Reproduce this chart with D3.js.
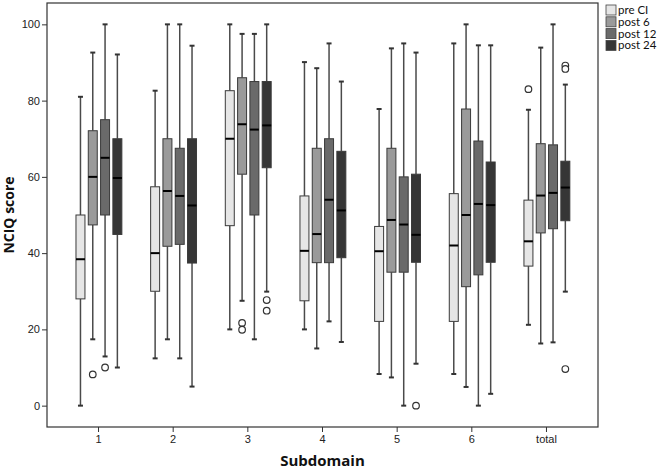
<!DOCTYPE html>
<html>
<head>
<meta charset="utf-8">
<script src="https://cdn.jsdelivr.net/npm/d3@7"></script>
<style>
  html, body { margin: 0; padding: 0; background: #fff; }
  svg { display: block; font-family: "Open Sans", "DejaVu Sans", sans-serif; }
</style>
</head>
<body>
<svg id="chart" width="658" height="471"></svg>
<script>
// ---- data ----
const categories = ["1", "2", "3", "4", "5", "6", "total"];
const seriesNames = ["pre CI", "post 6", "post 12", "post 24"];
const yTicks = [0, 20, 40, 60, 80, 100];

// each entry: [lower whisker, Q1, median, Q3, upper whisker]
const preCI = [
  [0, 28, 38.4, 50, 81],
  [12.4, 30, 40, 57.4, 82.6],
  [20, 47.2, 70, 82.6, 100],
  [20, 27.5, 40.6, 55, 90.1],
  [8.3, 22.1, 40.5, 47, 77.8],
  [8.3, 22.1, 42, 55.6, 95],
  [21.2, 36.6, 43.1, 53.9, 77.6]
];
const post6 = [
  [17.4, 47.4, 60, 72.1, 92.6],
  [17.4, 41.8, 56.3, 70, 100],
  [27.5, 60.7, 73.8, 86, 97.5],
  [15, 37.5, 45, 67.5, 88.5],
  [7.4, 35, 48.7, 67.5, 93.7],
  [4.9, 31.2, 50, 77.8, 100],
  [16.3, 45.3, 55.1, 68.7, 93.9]
];
const post12 = [
  [12.9, 50, 65, 75, 100],
  [12.4, 42.3, 55, 67.5, 100],
  [17.4, 50, 72.4, 85, 97.5],
  [22.1, 37.5, 54, 70, 95],
  [0, 35, 47.5, 60, 95],
  [0, 34.3, 52.9, 69.4, 94.5],
  [16.6, 46.4, 55.8, 68.4, 100]
];
const post24 = [
  [10, 44.9, 59.7, 70, 92.1],
  [5, 37.4, 52.5, 70, 94.4],
  [29.9, 62.4, 73.5, 85, 100],
  [16.7, 38.8, 51.2, 66.7, 85],
  [11, 37.6, 44.8, 60.7, 92.6],
  [3.1, 37.6, 52.6, 63.9, 94.5],
  [29.9, 48.5, 57.2, 64.1, 84.2]
];
// outliers: [category, series, value]
const outliers = [
  ["1", "post 6", 8.2],
  ["1", "post 12", 10],
  ["3", "post 6", 21.7],
  ["3", "post 6", 19.9],
  ["3", "post 24", 27.7],
  ["3", "post 24", 24.9],
  ["5", "post 24", 0],
  ["total", "pre CI", 83],
  ["total", "post 24", 89.2],
  ["total", "post 24", 88.3],
  ["total", "post 24", 9.6]
];
const seriesStats = [preCI, post6, post12, post24];
const fills = ["#e6e6e6", "#9a9a9a", "#6a6a6a", "#363636"];

// ---- layout ----
const svg = d3.select("#chart");
const frame = { left: 47, top: 3, right: 598, bottom: 427 };

const x = d3.scaleBand().domain(categories)
  .range([frame.left, frame.right]).paddingInner(0).paddingOuter(0.19);
const xs = d3.scaleBand().domain(seriesNames)
  .range([-24.2, 25.0]).paddingInner(0.27).paddingOuter(0.135);
const y = d3.scaleLinear().domain([-5.6, 105.6]).range([frame.bottom, frame.top]);
const color = d3.scaleOrdinal().domain(seriesNames).range(fills);

// frame
svg.append("rect")
  .attr("x", frame.left).attr("y", frame.top)
  .attr("width", frame.right - frame.left).attr("height", frame.bottom - frame.top)
  .attr("fill", "none").attr("stroke", "#333").attr("stroke-width", 1.2);

// axes
const yAxis = d3.axisLeft(y).tickValues(yTicks).tickSize(5).tickPadding(2);
const gy = svg.append("g").attr("transform", `translate(${frame.left},0)`).call(yAxis);
gy.select(".domain").remove();
gy.selectAll("line").attr("stroke", "#333");
gy.selectAll("text").attr("font-size", 11).attr("fill", "#222");

const xAxis = d3.axisBottom(x).tickSize(5).tickPadding(3);
const gx = svg.append("g").attr("transform", `translate(0,${frame.bottom})`).call(xAxis);
gx.select(".domain").remove();
gx.selectAll("line").attr("stroke", "#333");
gx.selectAll("text").attr("font-size", 11).attr("fill", "#222");

// axis titles
svg.append("text")
  .attr("x", (frame.left + frame.right) / 2).attr("y", 466)
  .attr("text-anchor", "middle").attr("font-size", 15).attr("font-weight", "bold")
  .attr("fill", "#111").text("Subdomain");
svg.append("text")
  .attr("transform", `translate(14,${(y(40) + y(60)) / 2}) rotate(-90)`)
  .attr("text-anchor", "middle").attr("font-size", 14).attr("font-weight", "bold")
  .attr("fill", "#111").text("NCIQ score");

// boxes
const boxData = [];
seriesNames.forEach((s, si) => {
  categories.forEach((c, ci) => {
    const [lo, q1, med, q3, hi] = seriesStats[si][ci];
    boxData.push({ c, s, lo, q1, med, q3, hi });
  });
});
const bw = xs.bandwidth();
const g = svg.append("g");
const box = g.selectAll("g.box").data(boxData).join("g")
  .attr("class", "box")
  .attr("transform", d => `translate(${x(d.c) + x.bandwidth() / 2 + xs(d.s)},0)`);

// whiskers
box.append("line")
  .attr("x1", bw / 2).attr("x2", bw / 2)
  .attr("y1", d => y(d.hi)).attr("y2", d => y(d.q3))
  .attr("stroke", "#4a4a4a").attr("stroke-width", 1.5);
box.append("line")
  .attr("x1", bw / 2).attr("x2", bw / 2)
  .attr("y1", d => y(d.q1)).attr("y2", d => y(d.lo))
  .attr("stroke", "#4a4a4a").attr("stroke-width", 1.5);
// caps
box.append("line")
  .attr("x1", bw / 2 - 2.5).attr("x2", bw / 2 + 2.5)
  .attr("y1", d => y(d.hi)).attr("y2", d => y(d.hi))
  .attr("stroke", "#333").attr("stroke-width", 2);
box.append("line")
  .attr("x1", bw / 2 - 2.5).attr("x2", bw / 2 + 2.5)
  .attr("y1", d => y(d.lo)).attr("y2", d => y(d.lo))
  .attr("stroke", "#333").attr("stroke-width", 2);
// box
box.append("rect")
  .attr("x", 0).attr("width", bw)
  .attr("y", d => y(d.q3)).attr("height", d => y(d.q1) - y(d.q3))
  .attr("fill", d => color(d.s)).attr("stroke", "#3a3a3a").attr("stroke-width", 1);
// median
box.append("line")
  .attr("x1", 0).attr("x2", bw)
  .attr("y1", d => y(d.med)).attr("y2", d => y(d.med))
  .attr("stroke", "#000").attr("stroke-width", 2);

// outliers
g.selectAll("circle.out").data(outliers).join("circle")
  .attr("class", "out")
  .attr("cx", d => x(d[0]) + x.bandwidth() / 2 + xs(d[1]) + bw / 2)
  .attr("cy", d => y(d[2]))
  .attr("r", 3.3)
  .attr("fill", "#fff").attr("stroke", "#333").attr("stroke-width", 1.2);

// legend
const lg = svg.append("g").attr("transform", "translate(606,5)");
const item = lg.selectAll("g").data(seriesNames).join("g")
  .attr("transform", (d, i) => `translate(0,${i * 11.8})`);
item.append("rect")
  .attr("x", 0).attr("y", 0).attr("width", 10).attr("height", 10)
  .attr("fill", d => color(d)).attr("stroke", "#444").attr("stroke-width", 0.8);
item.append("text")
  .attr("x", 12).attr("y", 9)
  .attr("font-family", "Lato, 'Liberation Sans', sans-serif")
  .attr("font-size", 11.5).attr("fill", "#111").text(d => d);
</script>
</body>
</html>
